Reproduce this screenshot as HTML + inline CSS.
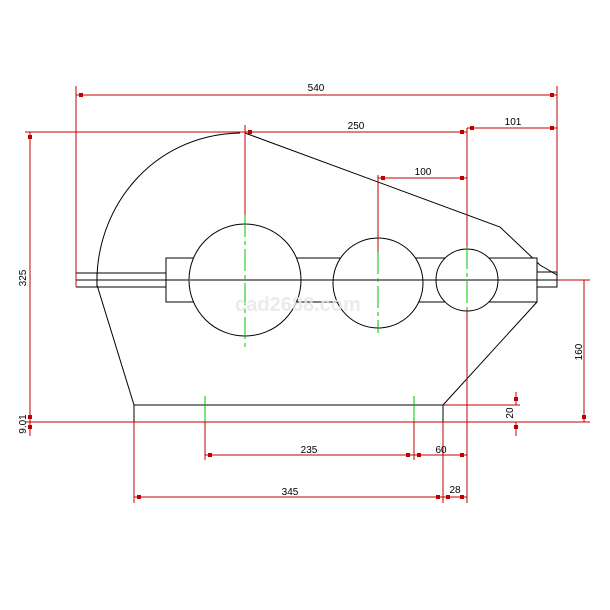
<!DOCTYPE html><html><head><style>body{margin:0;background:#fff}svg{display:block}text{font-family:"Liberation Sans",sans-serif;font-size:10px;fill:#000}</style></head><body>
<svg width="610" height="610" viewBox="0 0 610 610" xmlns="http://www.w3.org/2000/svg">
<g stroke="#000" stroke-width="1" fill="none">
<path d="M240,133 C150,135 95,210 97,285 L134,405"/>
<path d="M245,133 L500,227 L540,265 L557,275"/>
<rect x="134" y="405" width="309" height="17"/>
<path d="M443,405 L537,302"/>
<path d="M76,273 H166 M76,287 H166 M76,280 H557 M76,273 V287 M97,273 V287"/>
<rect x="166" y="258" width="371" height="44" fill="#fff"/>
<path d="M76,280 H557"/>
<rect x="537" y="272" width="20" height="15"/>
<circle cx="245" cy="280" r="56" fill="#fff"/>
<circle cx="378" cy="283" r="45" fill="#fff"/>
<circle cx="467" cy="280" r="31" fill="#fff"/>
<path d="M190,280 H556"/>
</g>
<g stroke="#00c000" stroke-width="1" fill="none">
<path d="M245,215 V347" stroke-dasharray="22,4,4,4"/>
<path d="M378,252 V333" stroke-dasharray="22,4,4,4"/>
<path d="M467,247 V310" stroke-dasharray="22,4,4,4"/>
<path d="M205,396 V422 M414,396 V422"/>
</g>
<g stroke="#c00000" stroke-width="1" fill="none">
<path d="M76,86 V287 M557,86 V272"/>
<path d="M76,95 H557"/>
<path d="M25,132 H245 M245,132 H467 M467,128 H557"/>
<path d="M245,125 V215 M378,175 V252 M467,128 V247 M467,310 V503"/>
<path d="M378,178 H467"/>
<path d="M30,132 V436"/>
<path d="M25,422 H590 M557,280 H590 M584,280 V422"/>
<path d="M443,405 H520 M516,392 V405 M516,422 V436"/>
<path d="M205,422 V460 M414,422 V460 M205,455 H467"/>
<path d="M134,422 V503 M443,422 V503 M134,497 H467"/>
</g>
<g fill="#c00000">
<rect x="79" y="93" width="4" height="4"/><rect x="550" y="93" width="4" height="4"/>
<rect x="248" y="130" width="4" height="4"/><rect x="460" y="130" width="4" height="4"/>
<rect x="470" y="126" width="4" height="4"/><rect x="550" y="126" width="4" height="4"/>
<rect x="381" y="176" width="4" height="4"/><rect x="460" y="176" width="4" height="4"/>
<rect x="28" y="135" width="4" height="4"/><rect x="28" y="415" width="4" height="4"/><rect x="28" y="425" width="4" height="4"/>
<rect x="582" y="415" width="4" height="4"/>
<rect x="514" y="397" width="4" height="4"/><rect x="514" y="425" width="4" height="4"/>
<rect x="208" y="453" width="4" height="4"/><rect x="406" y="453" width="4" height="4"/>
<rect x="417" y="453" width="4" height="4"/><rect x="460" y="453" width="4" height="4"/>
<rect x="137" y="495" width="4" height="4"/><rect x="436" y="495" width="4" height="4"/>
<rect x="446" y="495" width="4" height="4"/><rect x="460" y="495" width="4" height="4"/>
</g>
<text x="316" y="91" text-anchor="middle">540</text>
<text x="356" y="129" text-anchor="middle">250</text>
<text x="513" y="125" text-anchor="middle">101</text>
<text x="423" y="175" text-anchor="middle">100</text>
<text x="309" y="453" text-anchor="middle">235</text>
<text x="441" y="453" text-anchor="middle">60</text>
<text x="290" y="495" text-anchor="middle">345</text>
<text x="455" y="493" text-anchor="middle">28</text>
<text transform="translate(26,278) rotate(-90)" text-anchor="middle">325</text>
<text transform="translate(26,424) rotate(-90)" text-anchor="middle">9.01</text>
<text transform="translate(582,352) rotate(-90)" text-anchor="middle">160</text>
<text transform="translate(513,413) rotate(-90)" text-anchor="middle">20</text>
<text x="298" y="311" text-anchor="middle" style="font-size:20px;font-weight:bold;fill:#e6e6e6;fill-opacity:0.8">cad2688.com</text>
</svg></body></html>
